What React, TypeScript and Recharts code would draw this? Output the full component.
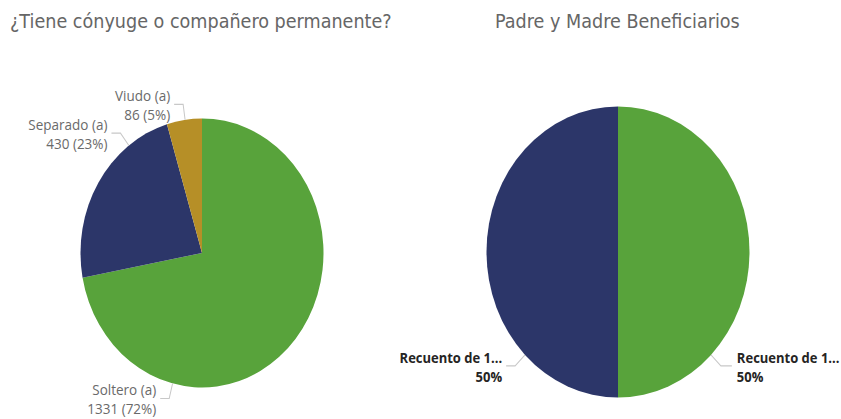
import { PieChart, Pie, Cell } from "recharts"

// ¿Tiene cónyuge o compañero permanente?
const maritalNames = ["Soltero (a)", "Separado (a)", "Viudo (a)"]
const maritalCounts = [1331, 430, 86]
const maritalPercents = ["72%", "23%", "5%"]

// Padre y Madre Beneficiarios
const parentNames = ["Recuento de 1...", "Recuento de 1..."]
const parentValues = [50, 50]
const parentPercents = ["50%", "50%"]

const maritalColors = ["#58A33B", "#2C3669", "#B68F27"]
const parentColors = ["#58A33B", "#2C3669"]

// label leader angles, degrees clockwise from 12 o'clock (Power BI moves them off the mid-angle)
const maritalLabelAngles = [194, 323, 352]
const parentLabelAngles = [135, 225]

const RADIAN = Math.PI / 180
const STRETCH = 1.107
const W = 841
const H = 419 / STRETCH

const maritalData = maritalNames.map((name, i) => ({
  name,
  value: maritalCounts[i],
  line2: `${maritalCounts[i]} (${maritalPercents[i]})`,
}))

const parentData = parentNames.map((name, i) => ({
  name,
  value: parentValues[i],
  line2: parentPercents[i],
}))

function makeLabel(angles: number[], bold: boolean) {
  return (props: any) => {
    const { cx, cy, outerRadius, index, payload } = props
    const a = (90 - angles[index]) * RADIAN
    const cos = Math.cos(a)
    const sin = Math.sin(a)
    const x0 = cx + outerRadius * cos
    const y0 = cy - outerRadius * sin
    const x1 = cx + (outerRadius + 14) * cos
    const y1 = cy - (outerRadius + 14) * sin
    const right = cos >= 0
    const x2 = x1 + (right ? 11 : -9)
    const tx = x2 + (right ? 5 : -4)
    const name = payload?.name ?? props.name
    const line2 = payload?.line2 ?? props.line2
    return (
      <g>
        <polyline
          points={`${x0},${y0} ${x1},${y1} ${x2},${y1}`}
          fill="none"
          stroke="#c8c8c8"
          strokeWidth={1}
        />
        <text
          x={tx}
          textAnchor={right ? "start" : "end"}
          fontFamily="'Open Sans', 'Noto Sans', sans-serif"
          fontSize={bold ? 13 : 13.5}
          fontWeight={bold ? 700 : 400}
          fill={bold ? "#252423" : "#6a6a6a"}
        >
          <tspan x={tx} y={y1 - 8} dominantBaseline="central">
            {name}
          </tspan>
          <tspan x={tx} y={y1 + 9} dominantBaseline="central">
            {line2}
          </tspan>
        </text>
      </g>
    )
  }
}

const titleStyle: React.CSSProperties = {
  position: "absolute",
  top: 9,
  fontFamily: "'DejaVu Sans', sans-serif",
  fontSize: 17.6,
  lineHeight: "20px",
  color: "#666666",
  whiteSpace: "nowrap",
}

export default function App() {
  return (
    <div
      style={{
        position: "absolute",
        left: 0,
        top: 0,
        width: W,
        height: H,
        background: "#ffffff",
        transform: `scaleY(${STRETCH})`,
        transformOrigin: "0 0",
      }}
    >
      <div style={{ ...titleStyle, left: 10 }}>¿Tiene cónyuge o compañero permanente?</div>
      <div style={{ ...titleStyle, left: 495 }}>Padre y Madre Beneficiarios</div>
      <div style={{ position: "absolute", left: 0, top: 0 }}>
        <PieChart width={W} height={H} margin={{ top: 0, right: 0, bottom: 0, left: 0 }}>
          <Pie
            data={maritalData}
            dataKey="value"
            nameKey="name"
            cx={202}
            cy={228.5}
            outerRadius={121.5}
            startAngle={90}
            endAngle={-270}
            stroke="none"
            labelLine={false}
            label={makeLabel(maritalLabelAngles, false)}
            isAnimationActive={false}
          >
            {maritalData.map((d, i) => (
              <Cell key={`m-${i}`} fill={maritalColors[i]} />
            ))}
          </Pie>
          <Pie
            data={parentData}
            dataKey="value"
            nameKey="name"
            cx={618}
            cy={227.6}
            outerRadius={131.5}
            startAngle={90}
            endAngle={-270}
            stroke="none"
            labelLine={false}
            label={makeLabel(parentLabelAngles, true)}
            isAnimationActive={false}
          >
            {parentData.map((d, i) => (
              <Cell key={`p-${i}`} fill={parentColors[i]} />
            ))}
          </Pie>
        </PieChart>
      </div>
    </div>
  )
}
